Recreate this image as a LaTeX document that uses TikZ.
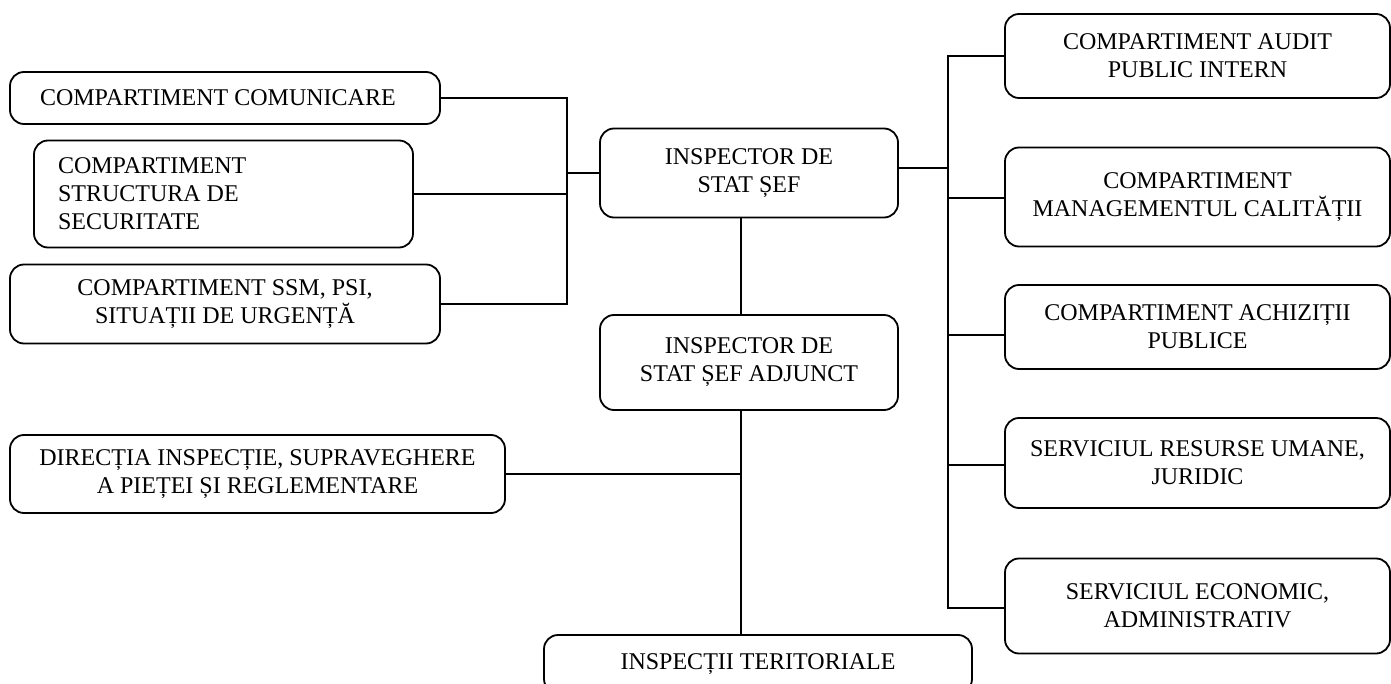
\documentclass[tikz,border=0pt]{standalone}
\usepackage{fontspec}
\setmainfont{Liberation Serif}
\begin{document}
\begin{tikzpicture}[x=1pt,y=-1pt,
  box/.style={draw, line width=1.8pt, rounded corners=14pt, align=center,
    font=\fontsize{24}{28}\selectfont, inner sep=0pt},
  conn/.style={line width=1.8pt}]
\clip (0,0) rectangle (1391,684);
% left group
\node[box, text width=370pt, inner xsep=30pt, align=flush left, minimum height=52pt] (com) at (225,98) {COMPARTIMENT COMUNICARE};
\node[box, text width=331pt, inner xsep=24pt, align=flush left, minimum height=107pt] (sec) at (223.5,194) {COMPARTIMENT\\STRUCTURA DE\\SECURITATE};
\node[box, minimum width=430pt, minimum height=79pt] (ssm) at (225,304) {COMPARTIMENT SSM, PSI,\\SITUAȚII DE URGENȚĂ};
% center
\node[box, minimum width=298pt, minimum height=89pt] (iss) at (749,173) {INSPECTOR DE\\STAT ȘEF};
\node[box, minimum width=298pt, minimum height=95pt] (issa) at (749,362.5) {INSPECTOR DE\\STAT ȘEF ADJUNCT};
\node[box, minimum width=495pt, minimum height=78pt] (dir) at (257.5,474) {DIRECȚIA INSPECȚIE, SUPRAVEGHERE\\A PIEȚEI ȘI REGLEMENTARE};
\node[box, minimum width=428pt, minimum height=58pt] (terr) at (758,664) {INSPECȚII TERITORIALE};
% right group
\node[box, minimum width=385pt, minimum height=84pt] (audit) at (1197.5,56) {COMPARTIMENT AUDIT\\PUBLIC INTERN};
\node[box, minimum width=385pt, minimum height=99pt] (mgmt) at (1197.5,197) {COMPARTIMENT\\MANAGEMENTUL CALITĂȚII};
\node[box, minimum width=385pt, minimum height=84pt] (achiz) at (1197.5,327) {COMPARTIMENT ACHIZIȚII\\PUBLICE};
\node[box, minimum width=385pt, minimum height=90pt] (res) at (1197.5,463) {SERVICIUL RESURSE UMANE,\\JURIDIC};
\node[box, minimum width=385pt, minimum height=95pt] (eco) at (1197.5,606) {SERVICIUL ECONOMIC,\\ADMINISTRATIV};
% bus coordinates
\coordinate (lb) at (567,0);
\coordinate (rb) at (948,0);
\coordinate (vx) at (741,0);
% left connectors
\draw[conn] (com.east) -- (com.east -| lb) -- (ssm.east -| lb) -- (ssm.east);
\draw[conn] (sec.east) -- (sec.east -| lb);
\draw[conn] (iss.west) -- (iss.west -| lb);
% right connectors
\draw[conn] (audit.west) -- (audit.west -| rb) -- ([yshift=-2pt]eco.west -| rb) -- ([yshift=-2pt]eco.west);
\draw[conn] ([yshift=5pt]iss.east) -- ([yshift=5pt]iss.east -| rb);
\draw[conn] ([yshift=-1pt]mgmt.west) -- ([yshift=-1pt]mgmt.west -| rb);
\draw[conn] ([yshift=-8pt]achiz.west) -- ([yshift=-8pt]achiz.west -| rb);
\draw[conn] ([yshift=-2pt]res.west) -- ([yshift=-2pt]res.west -| rb);
% vertical chain
\draw[conn] (iss.south -| vx) -- (issa.north -| vx);
\draw[conn] (issa.south -| vx) -- (terr.north -| vx);
\draw[conn] (dir.east) -- (dir.east -| vx);
\end{tikzpicture}
\end{document}
